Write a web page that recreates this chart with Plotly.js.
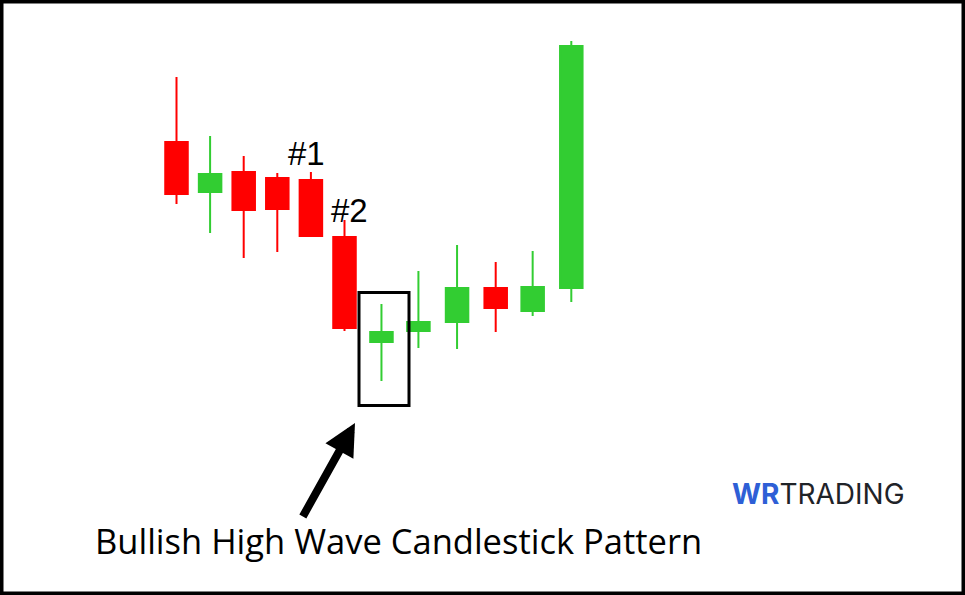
<!DOCTYPE html>
<html>
<head>
<meta charset="utf-8">
<script src="https://cdn.plot.ly/plotly-3.0.1.min.js"></script>
<style>
  html, body { margin: 0; padding: 0; background: #ffffff; }
  #chart { width: 965px; height: 595px; }
</style>
</head>
<body>
<div id="chart"></div>
<script>
// Candle positions (session index) and OHLC prices
const sessions = [0, 1, 2, 3, 4, 5, 6.1, 7.2, 8.35, 9.5, 10.6, 11.75];
const openP  = [458, 408, 428, 422, 420, 363, 258, 269, 278, 312, 289, 312];
const highP  = [523, 464, 444, 427, 428, 380, 296, 329, 355, 338, 349, 559];
const lowP   = [396, 367, 342, 348, 364, 269, 219, 252, 251, 268, 284, 298];
const closeP = [406, 426, 390, 391, 364, 272, 268, 278, 312, 292, 313, 554];

const labelTexts = ['#1', '#2'];
const captionText = 'Bullish High Wave Candlestick Pattern';

const GREEN = '#32CD32';
const RED = '#FF0000';

const W = 965, H = 595;
const px = v => v / W;
const py = v => 1 - v / H;

const trace = {
  type: 'candlestick',
  x: sessions,
  open: openP,
  high: highP,
  low: lowP,
  close: closeP,
  whiskerwidth: 0,
  increasing: { line: { color: GREEN, width: 2 }, fillcolor: GREEN },
  decreasing: { line: { color: RED, width: 2 }, fillcolor: RED },
  hoverinfo: 'none',
  showlegend: false
};

const layout = {
  width: W,
  height: H,
  margin: { l: 0, r: 0, t: 0, b: 0, pad: 0 },
  paper_bgcolor: '#ffffff',
  plot_bgcolor: '#ffffff',
  showlegend: false,
  boxgap: 0.33,
  boxgroupgap: 0,
  xaxis: {
    range: [-176.5 / 33.6, (965 - 176.5) / 33.6],
    visible: false,
    fixedrange: true,
    rangeslider: { visible: false }
  },
  yaxis: {
    range: [5, 600],
    visible: false,
    fixedrange: true
  },
  shapes: [
    // outer frame
    { type: 'rect', xref: 'paper', yref: 'paper', x0: 0, x1: 1, y0: 0, y1: 1,
      line: { color: '#000000', width: 7 }, fillcolor: 'rgba(0,0,0,0)' },
    // highlight box around the high wave candle
    { type: 'rect', xref: 'paper', yref: 'paper',
      x0: px(359), x1: px(409), y0: py(405.5), y1: py(292.5),
      line: { color: '#000000', width: 3 }, fillcolor: 'rgba(0,0,0,0)' }
  ],
  annotations: [
    { xref: 'paper', yref: 'paper', x: px(306), y: py(154), text: labelTexts[0],
      showarrow: false, xanchor: 'center', yanchor: 'middle',
      font: { family: 'Liberation Sans, Arial, sans-serif', size: 33, color: '#000000' } },
    { xref: 'paper', yref: 'paper', x: px(349), y: py(210), text: labelTexts[1],
      showarrow: false, xanchor: 'center', yanchor: 'middle',
      font: { family: 'Liberation Sans, Arial, sans-serif', size: 33, color: '#000000' } },
    { xref: 'paper', yref: 'paper', x: px(398), y: py(540), text: captionText,
      showarrow: false, xanchor: 'center', yanchor: 'middle',
      font: { family: 'Open Sans, Noto Sans, sans-serif', size: 34.5, color: '#000000' } },
    // arrow pointing at the box
    { xref: 'paper', yref: 'paper', x: px(355), y: py(423), text: '',
      showarrow: true, ax: -53, ay: 95, arrowhead: 2, arrowsize: 0.8,
      arrowwidth: 8, arrowcolor: '#000000', standoff: 0 },
    // logo
    { xref: 'paper', yref: 'paper', x: px(730), y: py(494), xanchor: 'left', yanchor: 'middle',
      showarrow: false,
      text: "<b><span style='color:#2E5FD6'>WR</span></b><span style='color:#1F2328'>TRADING</span>",
      font: { family: 'Inter, Lato, sans-serif', size: 28, color: '#1F2328' } }
  ]
};

Plotly.newPlot('chart', [trace], layout, { staticPlot: true, displayModeBar: false });
</script>
</body>
</html>
